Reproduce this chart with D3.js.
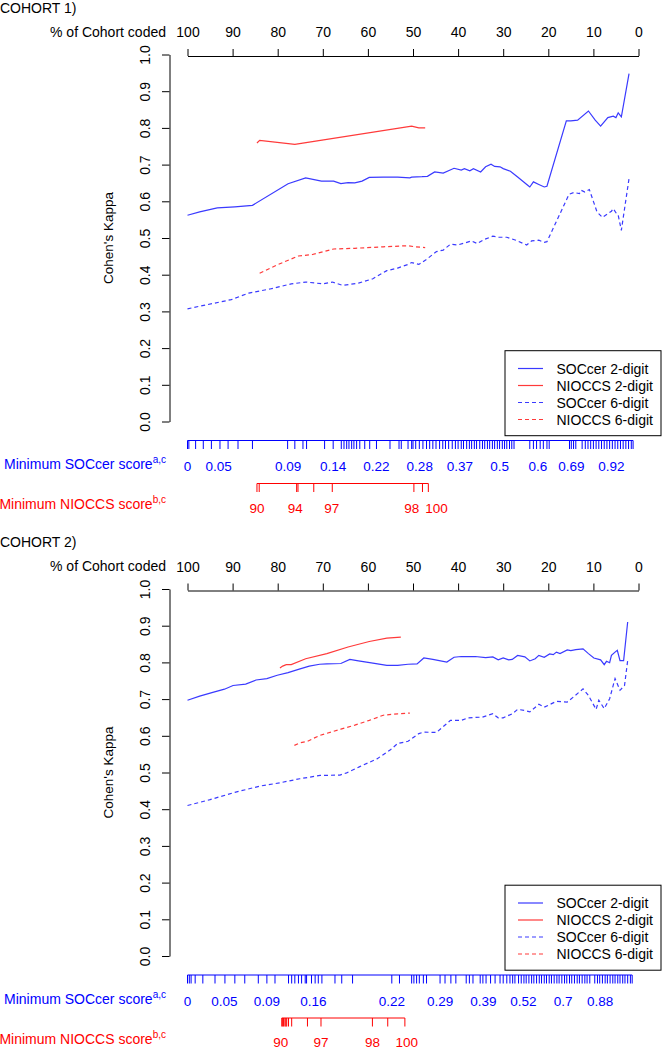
<!DOCTYPE html>
<html>
<head>
<meta charset="utf-8">
<script src="https://cdn.jsdelivr.net/npm/d3@7"></script>
<style>
  body { margin: 0; background: #fff; }
  text { font-family: "Liberation Sans", Arial, sans-serif; }
</style>
</head>
<body>
<svg id="chart" width="662" height="1050"></svg>
<script>
// axis ticks
const topTicks = [100, 90, 80, 70, 60, 50, 40, 30, 20, 10, 0];
const yTicks = [0, 0.1, 0.2, 0.3, 0.4, 0.5, 0.6, 0.7, 0.8, 0.9, 1.0];

// legend
const legendLabels = ["SOCcer 2-digit", "NIOCCS 2-digit", "SOCcer 6-digit", "NIOCCS 6-digit"];
const legendColors = ["#3a3aff", "#ff3a3a", "#3a3aff", "#ff3a3a"];
const legendDashed = [false, false, true, true];

// COHORT 1 series: [% of cohort coded, kappa]
const c1Soc2 = [[100,0.562],[97.3,0.571],[93.4,0.582],[89.5,0.585],[85.6,0.589],[77.7,0.648],[73.8,0.664],
  [70.3,0.655],[67.6,0.655],[66.0,0.648],[64.4,0.651],[62.9,0.650],[61.3,0.655],[59.7,0.665],[56.6,0.666],
  [53.4,0.666],[50.7,0.664],[50.3,0.666],[48.0,0.667],[46.8,0.668],[45.2,0.680],[43.3,0.677],[40.9,0.690],
  [39.3,0.685],[38.6,0.689],[37.4,0.683],[36.6,0.689],[35.0,0.680],[33.9,0.694],[32.7,0.701],[31.9,0.695],
  [30.7,0.694],[30.0,0.689],[28.4,0.682],[26.8,0.666],[24.5,0.643],[24.1,0.639],[23.3,0.653],[22.1,0.646],
  [20.9,0.639],[20.3,0.641],[16.0,0.819],[15.0,0.819],[13.5,0.821],[11.1,0.846],[9.6,0.821],[8.4,0.805],
  [6.8,0.828],[5.6,0.832],[5.0,0.828],[4.5,0.841],[3.8,0.830],[2.1,0.948]];
const c1Nio2 = [[84.6,0.759],[84.0,0.766],[76.2,0.755],[50.3,0.805],[48.7,0.800],[47.3,0.800]];
const c1Soc6 = [[100,0.307],[95.8,0.318],[90.3,0.332],[86.4,0.350],[81.7,0.361],[77.0,0.375],[73.8,0.380],
  [69.9,0.375],[67.9,0.380],[65.6,0.371],[62.1,0.377],[58.9,0.389],[55.8,0.411],[53.4,0.418],[51.1,0.428],
  [50.3,0.433],[48.7,0.428],[47.2,0.440],[44.8,0.463],[43.3,0.467],[41.7,0.483],[40.1,0.481],[37.0,0.492],
  [35.8,0.485],[34.2,0.496],[32.3,0.505],[31.1,0.502],[29.2,0.502],[27.2,0.494],[24.8,0.481],[23.7,0.492],
  [22.1,0.494],[20.9,0.488],[20.3,0.490],[15.4,0.619],[14.3,0.624],[13.1,0.621],[12.7,0.630],[11.9,0.625],
  [10.9,0.632],[9.2,0.571],[8.0,0.556],[6.0,0.573],[5.6,0.580],[4.9,0.567],[4.5,0.562],[3.8,0.521],[2.1,0.662]];
const c1Nio6 = [[84.0,0.404],[80.1,0.427],[75.4,0.451],[72.3,0.455],[67.6,0.470],[62.9,0.472],[56.6,0.476],
  [51.1,0.479],[49.5,0.476],[47.3,0.474]];

// COHORT 1 score rugs
const c1SocRug = [100, 99.7, 98.2, 96.5, 94.7, 92.8, 91.0, 88.8, 85.6, 77.8, 76.2, 74.4, 73.6, 69.6, 67.7,
  65.9, 65.3, 64.7, 64.2, 63.6, 63.1, 62.5, 61.8, 60.7, 59.6, 58.1, 55.1, 53.1, 52.6, 51.1, 50.3, 50.0, 49.4,
  48.6, 47.8, 47.0, 46.3, 45.6, 44.9, 44.1, 43.4, 42.8, 42.1, 41.3, 40.6, 40.0, 39.3, 38.8, 38.1, 37.5, 37.0,
  36.4, 35.9, 35.2, 34.6, 34.1, 33.5, 33.0, 32.4, 31.9, 31.3, 30.8, 30.2, 29.7, 29.2, 28.6, 28.1, 27.6, 24.1,
  23.3, 22.6, 21.8, 21.1, 20.3, 19.8, 15.3, 14.9, 14.4, 13.9, 12.5, 11.8, 11.2, 10.6, 10.0, 9.4, 8.8, 8.2,
  7.6, 7.0, 6.4, 5.8, 5.2, 4.6, 4.0, 3.4, 2.8, 2.2, 1.6, 1.2];
const c1SocLabPos = [100, 93.1, 77.7, 67.7, 58.1, 48.5, 39.6, 30.8, 22.3, 14.9, 6.0];
const c1SocLabTxt = ["0", "0.05", "0.09", "0.14", "0.22", "0.28", "0.37", "0.5", "0.6", "0.69", "0.92"];
const c1NioRug = [84.6, 84.1, 75.8, 75.5, 72.0, 67.9, 49.8, 47.9, 46.6];
const c1NioLabPos = [84.6, 76.1, 68.0, 50.3, 44.8];
const c1NioLabTxt = ["90", "94", "97", "98", "100"];

// COHORT 2 series
const c2Soc2 = [[100,0.697],[97.3,0.708],[94.2,0.719],[91.8,0.727],[89.9,0.737],[87.1,0.741],[84.8,0.752],
  [82.4,0.756],[80.1,0.765],[77.7,0.772],[75.4,0.781],[73.0,0.790],[70.7,0.795],[69.1,0.796],[66.0,0.797],
  [64.0,0.808],[62.1,0.804],[58.9,0.798],[55.8,0.792],[53.4,0.792],[51.1,0.795],[49.1,0.796],[47.6,0.812],
  [45.6,0.808],[42.5,0.801],[40.9,0.814],[39.3,0.816],[36.2,0.816],[33.9,0.813],[32.3,0.815],[31.1,0.807],
  [30.0,0.812],[28.8,0.807],[28.0,0.808],[26.8,0.819],[25.2,0.815],[24.1,0.804],[22.9,0.810],[22.1,0.819],
  [20.9,0.814],[19.7,0.823],[18.9,0.821],[18.2,0.828],[17.4,0.824],[15.8,0.834],[15.0,0.832],[13.9,0.835],
  [12.3,0.837],[11.1,0.824],[9.9,0.812],[8.4,0.807],[7.6,0.794],[7.1,0.803],[6.4,0.799],[6.0,0.819],
  [5.2,0.828],[4.7,0.833],[4.1,0.805],[3.3,0.805],[2.4,0.910]];
const c2Nio2 = [[79.5,0.785],[78.9,0.790],[78.1,0.794],[77.0,0.794],[73.8,0.810],[69.1,0.824],[64.4,0.842],
  [59.7,0.857],[55.8,0.866],[52.7,0.869]];
const c2Soc6 = [[100,0.410],[95.0,0.426],[89.5,0.446],[83.9,0.463],[79.5,0.472],[75.1,0.483],[70.6,0.492],
  [66.2,0.493],[64.7,0.499],[61.8,0.516],[58.0,0.537],[55.0,0.562],[53.4,0.579],[51.1,0.585],[48.7,0.606],
  [47.6,0.610],[44.8,0.609],[41.7,0.642],[39.3,0.642],[37.8,0.649],[34.6,0.651],[32.3,0.660],[31.1,0.649],
  [30.0,0.649],[28.0,0.660],[26.8,0.672],[25.2,0.669],[24.1,0.665],[22.1,0.686],[20.9,0.678],[19.7,0.685],
  [18.2,0.694],[15.8,0.692],[14.3,0.707],[12.3,0.728],[11.1,0.710],[9.4,0.672],[8.8,0.697],[7.6,0.674],
  [6.4,0.701],[5.2,0.756],[4.1,0.724],[3.1,0.737],[2.4,0.805]];
const c2Nio6 = [[76.3,0.574],[75.0,0.581],[73.4,0.585],[70.7,0.601],[66.0,0.618],[62.9,0.629],[59.7,0.642],
  [56.6,0.656],[53.4,0.660],[50.7,0.662]];

// COHORT 2 score rugs
const c2SocRug = [100, 99.6, 99.2, 98.3, 96.6, 93.9, 91.7, 89.5, 87.3, 84.3, 82.4, 80.6, 77.6, 76.9, 76.2,
  75.4, 74.7, 73.9, 73.6, 72.5, 71.7, 71.0, 70.2, 67.3, 65.8, 63.4, 54.7, 53.0, 50.3, 49.8, 49.2, 48.6, 47.7,
  47.0, 44.0, 42.9, 41.6, 40.5, 38.2, 37.5, 36.7, 35.1, 34.5, 33.8, 32.8, 31.8, 30.7, 30.0, 29.2, 28.5, 27.9,
  27.4, 26.6, 26.0, 25.4, 24.9, 24.3, 23.7, 23.2, 22.6, 22.0, 21.5, 20.9, 20.4, 19.8, 19.3, 18.7, 18.1, 17.6,
  17.0, 16.4, 15.9, 15.3, 14.8, 14.2, 13.6, 13.1, 12.5, 11.9, 11.4, 10.8, 9.7, 9.1, 8.6, 8.0, 7.4, 6.9, 6.3,
  5.7, 5.2, 4.6, 4.1, 3.5, 3.0, 2.4, 1.8, 1.4];
const c2SocLabPos = [100, 91.8, 82.4, 72.1, 54.7, 44.0, 34.4, 25.5, 16.7, 8.5];
const c2SocLabTxt = ["0", "0.05", "0.09", "0.16", "0.22", "0.29", "0.39", "0.52", "0.7", "0.88"];
const c2NioRug = [79.1, 78.9, 78.7, 78.4, 78.2, 78.0, 77.6, 76.9, 73.4, 70.4, 59.0, 55.6, 51.8];
const c2NioLabPos = [79.3, 70.4, 59.0, 51.4];
const c2NioLabTxt = ["90", "97", "98", "100"];

const svg = d3.select("#chart");
const x = d3.scaleLinear().domain([100, 0]).range([187.5, 638.5]);
const y = d3.scaleLinear().domain([0, 1]).range([421.5, 54.5]);

const line = d3.line().x(d => x(d[0])).y(d => y(d[1]));

function rug(g, ticks, labPos, labTxt, yLine, yLab, color) {
  g.append("line")
    .attr("x1", x(d3.max(ticks))).attr("x2", x(d3.min(ticks)))
    .attr("y1", yLine).attr("y2", yLine)
    .attr("stroke", color).attr("stroke-width", 1);
  g.selectAll(null).data(ticks).enter().append("line")
    .attr("x1", d => x(d)).attr("x2", d => x(d))
    .attr("y1", yLine).attr("y2", yLine + 8.5)
    .attr("stroke", color).attr("stroke-width", 1);
  g.selectAll(null).data(labPos).enter().append("text")
    .attr("x", d => x(d)).attr("y", yLab)
    .attr("text-anchor", "middle").attr("font-size", 13.5).attr("fill", color)
    .text((d, i) => labTxt[i]);
}

function drawPanel(top, title, series, socRug, socLabPos, socLabTxt, nioRug, nioLabPos, nioLabTxt) {
  const g = svg.append("g").attr("transform", `translate(0,${top})`);

  g.append("text").attr("x", 0).attr("y", 12.5).attr("font-size", 14).text(title);

  // top axis
  const ax = g.append("g").attr("transform", "translate(0,56)")
    .call(d3.axisTop(x).tickValues(topTicks).tickSize(7).tickSizeOuter(0).tickPadding(12).tickFormat(d3.format("d")));
  ax.attr("font-family", null).attr("font-size", 14);
  ax.selectAll("text").attr("font-size", 14);
  g.append("text").attr("x", 166).attr("y", 36.7).attr("text-anchor", "end")
    .attr("font-size", 14).text("% of Cohort coded");

  // left axis
  const ay = g.append("g").attr("transform", "translate(169.5,0)")
    .call(d3.axisLeft(y).tickValues(yTicks).tickSize(7.5).tickSizeOuter(0).tickFormat(d3.format(".1f")));
  ay.attr("font-family", null);
  ay.selectAll(".tick text")
    .attr("x", null).attr("dy", null).attr("font-size", 14)
    .attr("text-anchor", "middle")
    .attr("transform", "translate(-19.5,0) rotate(-90)");
  g.append("text")
    .attr("transform", `translate(113,${(y(0) + y(1)) / 2}) rotate(-90)`)
    .attr("text-anchor", "middle").attr("font-size", 13.5).text("Cohen's Kappa");

  // lines
  series.forEach((s, i) => {
    g.append("path").datum(s)
      .attr("d", line)
      .attr("fill", "none")
      .attr("stroke", legendColors[i])
      .attr("stroke-width", 1.2)
      .attr("stroke-dasharray", legendDashed[i] ? "4,3" : null);
  });

  // legend
  const lg = g.append("g");
  lg.append("rect").attr("x", 505).attr("y", 350.7).attr("width", 156).attr("height", 85)
    .attr("fill", "#fff").attr("stroke", "#000").attr("stroke-width", 1);
  legendLabels.forEach((lab, i) => {
    const ly = 368.5 + i * 17;
    lg.append("line").attr("x1", 518).attr("x2", 543).attr("y1", ly).attr("y2", ly)
      .attr("stroke", legendColors[i]).attr("stroke-width", 1.2)
      .attr("stroke-dasharray", legendDashed[i] ? "4,3" : null);
    lg.append("text").attr("x", 556.5).attr("y", ly + 5).attr("font-size", 14).text(lab);
  });

  // score rugs
  rug(g, socRug, socLabPos, socLabTxt, 440.5, 471, "blue");
  rug(g, nioRug, nioLabPos, nioLabTxt, 483.5, 512.5, "red");

  const t1 = g.append("text").attr("x", 166).attr("y", 469).attr("text-anchor", "end")
    .attr("font-size", 14).attr("fill", "blue").text("Minimum SOCcer score");
  t1.append("tspan").attr("dy", -6).attr("font-size", 10).text("a,c");
  const t2 = g.append("text").attr("x", 166).attr("y", 509).attr("text-anchor", "end")
    .attr("font-size", 14).attr("fill", "red").text("Minimum NIOCCS score");
  t2.append("tspan").attr("dy", -6).attr("font-size", 10).text("b,c");
}

drawPanel(0, "COHORT 1)", [c1Soc2, c1Nio2, c1Soc6, c1Nio6],
  c1SocRug, c1SocLabPos, c1SocLabTxt, c1NioRug, c1NioLabPos, c1NioLabTxt);
drawPanel(534.5, "COHORT 2)", [c2Soc2, c2Nio2, c2Soc6, c2Nio6],
  c2SocRug, c2SocLabPos, c2SocLabTxt, c2NioRug, c2NioLabPos, c2NioLabTxt);
</script>
</body>
</html>
